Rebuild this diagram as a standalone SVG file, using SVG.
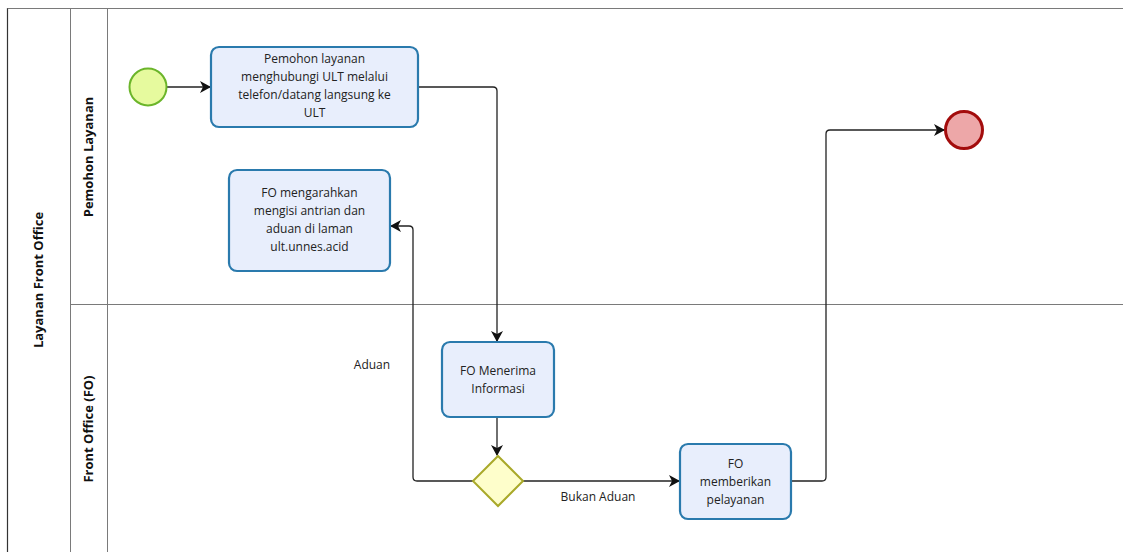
<svg xmlns="http://www.w3.org/2000/svg" width="1123" height="552" viewBox="0 0 1123 552">
<style>
.lane{fill:none;stroke:#7a7a7a;stroke-width:1}
.task{fill:#e8eefc;stroke:#2a7aad;stroke-width:2.2}
.t{font-family:"Open Sans","Liberation Sans",sans-serif;font-size:12px;fill:#222;text-anchor:middle}
.lbl{font-family:"Open Sans","Liberation Sans",sans-serif;font-size:13px;font-weight:bold;fill:#111;text-anchor:middle}
.c{fill:none;stroke:#222;stroke-width:1.3}
</style>
<defs>
<marker id="arr" markerWidth="12" markerHeight="12" refX="10" refY="6" orient="auto" markerUnits="userSpaceOnUse">
<path d="M0,0 L11,6 L0,12 L3,6 Z" fill="#111"/>
</marker>
</defs>
<rect width="1123" height="552" fill="#fff"/>
<g id="pool">
<line x1="7.5" y1="8" x2="7.5" y2="552" stroke="#333" stroke-width="1.2"/>
<line x1="7.5" y1="8.5" x2="1123" y2="8.5" class="lane"/>
<line x1="70.5" y1="8" x2="70.5" y2="552" class="lane"/>
<line x1="107.5" y1="8" x2="107.5" y2="552" class="lane"/>
<line x1="70.5" y1="304.5" x2="1123" y2="304.5" class="lane"/>
<text class="lbl" transform="translate(43,280) rotate(-90)">Layanan Front Office</text>
</g>
<g id="lane-pemohon">
<text class="lbl" transform="translate(93,157) rotate(-90)">Pemohon Layanan</text>
</g>
<g id="lane-fo">
<text class="lbl" transform="translate(93,429) rotate(-90)">Front Office (FO)</text>
</g>
<g id="connectors">
<path class="c" d="M167,87 H210" marker-end="url(#arr)"/>
<path class="c" d="M418,87 H493 Q497,87 497,91 V341" marker-end="url(#arr)"/>
<path class="c" d="M497,417 V455" marker-end="url(#arr)"/>
<path class="c" d="M473,481 H417 Q413,481 413,477 V230 Q413,226 409,226 H391" marker-end="url(#arr)"/>
<path class="c" d="M523,481 H679" marker-end="url(#arr)"/>
<path class="c" d="M791,481 H822 Q826,481 826,477 V134 Q826,130 830,130 H944" marker-end="url(#arr)"/>
<text class="t" x="372" y="369">Aduan</text>
<text class="t" x="598" y="501">Bukan Aduan</text>
</g>
<g id="start">
<circle cx="148" cy="87" r="18.5" fill="#e6fa9e" stroke="#6bb52a" stroke-width="2"/>
</g>
<g id="task1">
<rect class="task" x="211" y="47" width="207" height="80" rx="8"/>
<text class="t" x="314.5" y="63">Pemohon layanan</text>
<text class="t" x="314.5" y="81">menghubungi ULT melalui</text>
<text class="t" x="314.5" y="99">telefon/datang langsung ke</text>
<text class="t" x="314.5" y="117">ULT</text>
</g>
<g id="task2">
<rect class="task" x="229" y="170" width="161" height="101" rx="8"/>
<text class="t" x="309.5" y="197">FO mengarahkan</text>
<text class="t" x="309.5" y="215">mengisi antrian dan</text>
<text class="t" x="309.5" y="233">aduan di laman</text>
<text class="t" x="309.5" y="251">ult.unnes.acid</text>
</g>
<g id="task3">
<rect class="task" x="442" y="342" width="112" height="75" rx="8"/>
<text class="t" x="498" y="375">FO Menerima</text>
<text class="t" x="498" y="393">Informasi</text>
</g>
<g id="gateway">
<path d="M498,456 L523,481 L498,506 L473,481 Z" fill="#fefecb" stroke="#a9a92a" stroke-width="2"/>
</g>
<g id="task4">
<rect class="task" x="680" y="444" width="111" height="75" rx="8"/>
<text class="t" x="735.5" y="468">FO</text>
<text class="t" x="735.5" y="486">memberikan</text>
<text class="t" x="735.5" y="504">pelayanan</text>
</g>
<g id="end">
<circle cx="964" cy="130" r="18.5" fill="#eda7a8" stroke="#a30c0c" stroke-width="3"/>
</g>
</svg>
